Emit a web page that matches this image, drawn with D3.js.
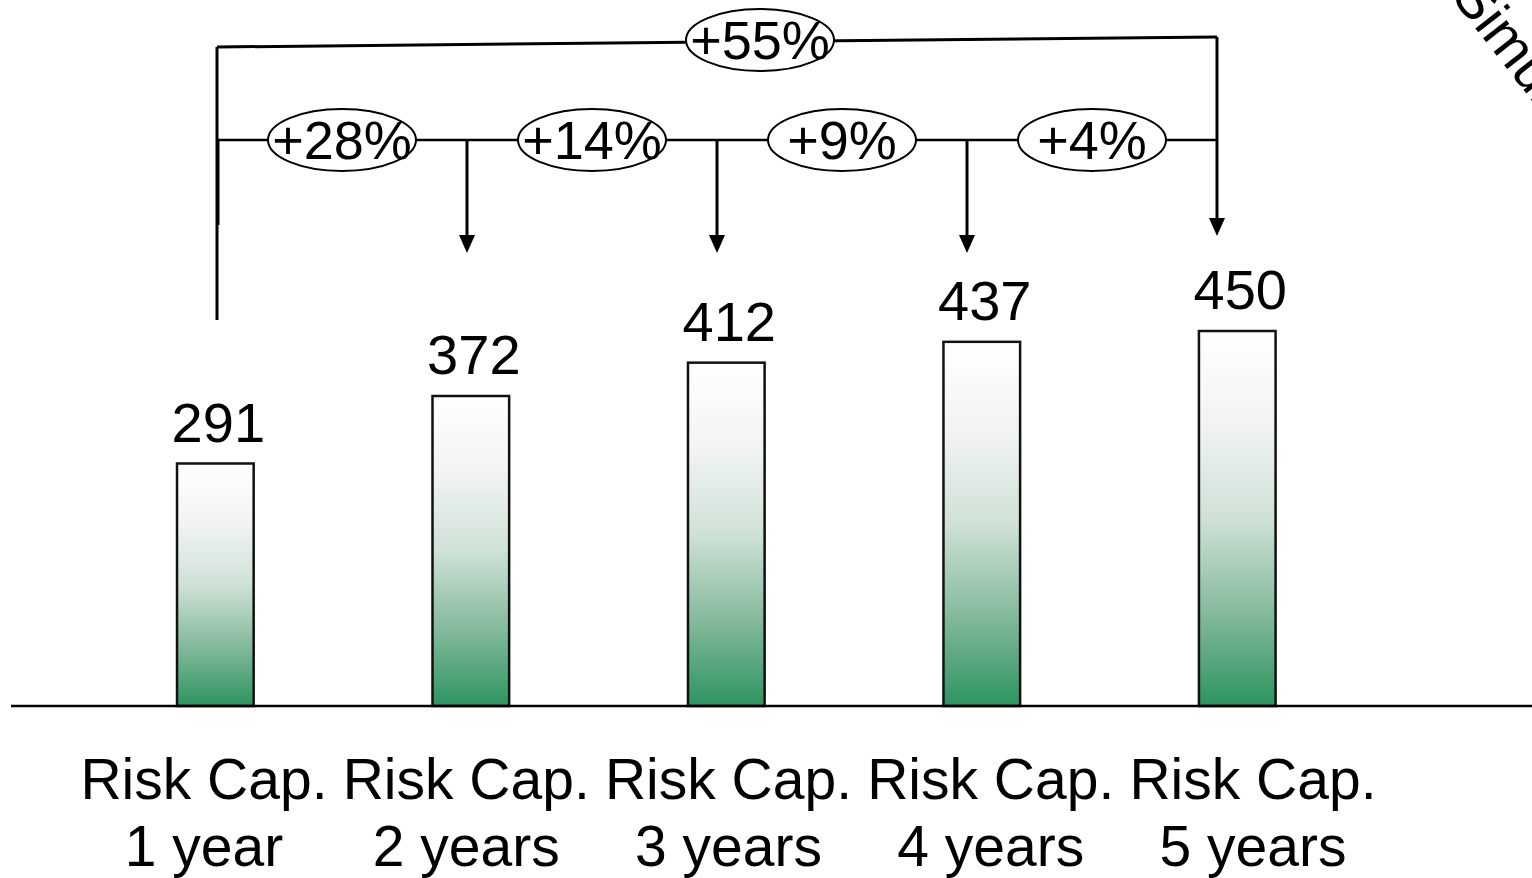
<!DOCTYPE html>
<html>
<head>
<meta charset="utf-8">
<script src="https://cdn.jsdelivr.net/npm/d3@7"></script>
<style>
  html, body { margin: 0; padding: 0; background: #fff; overflow: hidden; }
  svg { display: block; font-family: "Liberation Sans", Arial, Helvetica, sans-serif; }
</style>
</head>
<body>
<svg id="chart" width="1532" height="878"></svg>
<script>
// Risk capital by horizon
const categories = ["1 year", "2 years", "3 years", "4 years", "5 years"];
const categoryPrefix = "Risk Cap.";
const values = [291, 372, 412, 437, 450];
// growth annotations between consecutive horizons, and overall
const stepChanges = ["+28%", "+14%", "+9%", "+4%"];
const totalChange = "+55%";
const cornerLabel = "Simulation";

const W = 1532, H = 878;
const svg = d3.select("#chart");

const x = d3.scaleBand()
  .domain(categories)
  .range([87.6, 1365])
  .paddingInner(0.7)
  .paddingOuter(0.35);

// category captions are spread slightly wider than the bars
const xl = d3.scalePoint()
  .domain(categories)
  .range([204, 1253]);

const y = d3.scaleLinear()
  .domain([0, 450])
  .range([706, 331]);

// bracket anchor points for the growth annotations
const bx = d3.scalePoint()
  .domain(categories)
  .range([217, 1217]);

// vertical gradient used by every bar
const defs = svg.append("defs");
const grad = defs.append("linearGradient")
  .attr("id", "barFill")
  .attr("x1", 0).attr("y1", 0).attr("x2", 0).attr("y2", 1);
[
  [0, "#ffffff"],
  [0.25, "#f1f4f2"],
  [0.5, "#cfe1d6"],
  [0.75, "#85ba9c"],
  [1, "#2d9460"]
].forEach(([o, c]) => grad.append("stop").attr("offset", o).attr("stop-color", c));

// bars
svg.append("g")
  .selectAll("rect")
  .data(values)
  .join("rect")
  .attr("x", (d, i) => x(categories[i]))
  .attr("y", d => y(d))
  .attr("width", x.bandwidth())
  .attr("height", d => y(0) - y(d))
  .attr("fill", "url(#barFill)")
  .attr("stroke", "#111")
  .attr("stroke-width", 2.5);

// baseline
svg.append("line")
  .attr("x1", 11).attr("x2", W)
  .attr("y1", y(0)).attr("y2", y(0))
  .attr("stroke", "#000")
  .attr("stroke-width", 2.5);

// value labels
svg.append("g")
  .selectAll("text")
  .data(values)
  .join("text")
  .attr("x", (d, i) => x(categories[i]) + x.bandwidth() / 2 + 3)
  .attr("y", d => y(d) - 22)
  .attr("text-anchor", "middle")
  .attr("font-size", 56)
  .attr("fill", "#000")
  .text(d => d);

// category labels (two lines)
const cat = svg.append("g")
  .selectAll("text")
  .data(categories)
  .join("text")
  .attr("text-anchor", "middle")
  .attr("font-size", 57)
  .attr("fill", "#000");
cat.append("tspan")
  .attr("x", d => xl(d))
  .attr("y", 799)
  .text(categoryPrefix);
cat.append("tspan")
  .attr("x", d => xl(d))
  .attr("y", 866)
  .text(d => d);

// growth annotations
const ann = svg.append("g")
  .attr("stroke", "#000")
  .attr("fill", "none");

const stepY = 140;
const topYL = 47, topYR = 37;
const first = categories[0], last = categories[categories.length - 1];

// overall bracket: left leg, sloped top, right leg with arrow
ann.append("line")
  .attr("x1", bx(first)).attr("x2", bx(first))
  .attr("y1", topYL).attr("y2", 320)
  .attr("stroke-width", 3);
ann.append("line")
  .attr("x1", bx(first) + 1).attr("x2", bx(first) + 1)
  .attr("y1", stepY).attr("y2", 225)
  .attr("stroke-width", 3);
ann.append("line")
  .attr("x1", bx(first)).attr("x2", bx(last))
  .attr("y1", topYL).attr("y2", topYR)
  .attr("stroke-width", 3);

// step bracket: horizontal line across all anchors
ann.append("line")
  .attr("x1", bx(first)).attr("x2", bx(last))
  .attr("y1", stepY).attr("y2", stepY)
  .attr("stroke-width", 2.5);

// arrows
const arrowHead = (cx, tip) => `M${cx - 8},${tip - 18}L${cx + 8},${tip - 18}L${cx},${tip}Z`;
const arrowSpecs = categories.slice(1).map((c, i) => ({
  cx: bx(c),
  from: i === categories.length - 2 ? topYR : stepY,
  tip: i === categories.length - 2 ? 236 : 253
}));
ann.selectAll("line.arrow")
  .data(arrowSpecs)
  .join("line")
  .attr("class", "arrow")
  .attr("x1", d => d.cx).attr("x2", d => d.cx)
  .attr("y1", d => d.from).attr("y2", d => d.tip - 14)
  .attr("stroke-width", 3);
ann.selectAll("path.head")
  .data(arrowSpecs)
  .join("path")
  .attr("class", "head")
  .attr("d", d => arrowHead(d.cx, d.tip))
  .attr("fill", "#000")
  .attr("stroke", "none");

// labelled ellipses
function bubble(cx, cy, label) {
  const g = svg.append("g");
  g.append("ellipse")
    .attr("cx", cx).attr("cy", cy)
    .attr("rx", 74).attr("ry", 31)
    .attr("fill", "#fff")
    .attr("stroke", "#000")
    .attr("stroke-width", 2);
  g.append("text")
    .attr("x", cx).attr("y", cy + 19)
    .attr("text-anchor", "middle")
    .attr("font-size", 54)
    .attr("fill", "#000")
    .text(label);
}

stepChanges.forEach((s, i) => {
  const cx = (bx(categories[i]) + bx(categories[i + 1])) / 2;
  bubble(cx, stepY, s);
});
const tx = d3.interpolateNumber(bx(first), bx(last))(0.543);
bubble(tx, 40, totalChange);

// rotated label running off the top-right corner
svg.append("text")
  .attr("transform", "translate(1450,-4) rotate(52)")
  .attr("font-size", 56)
  .attr("fill", "#000")
  .text(cornerLabel);
</script>
</body>
</html>
